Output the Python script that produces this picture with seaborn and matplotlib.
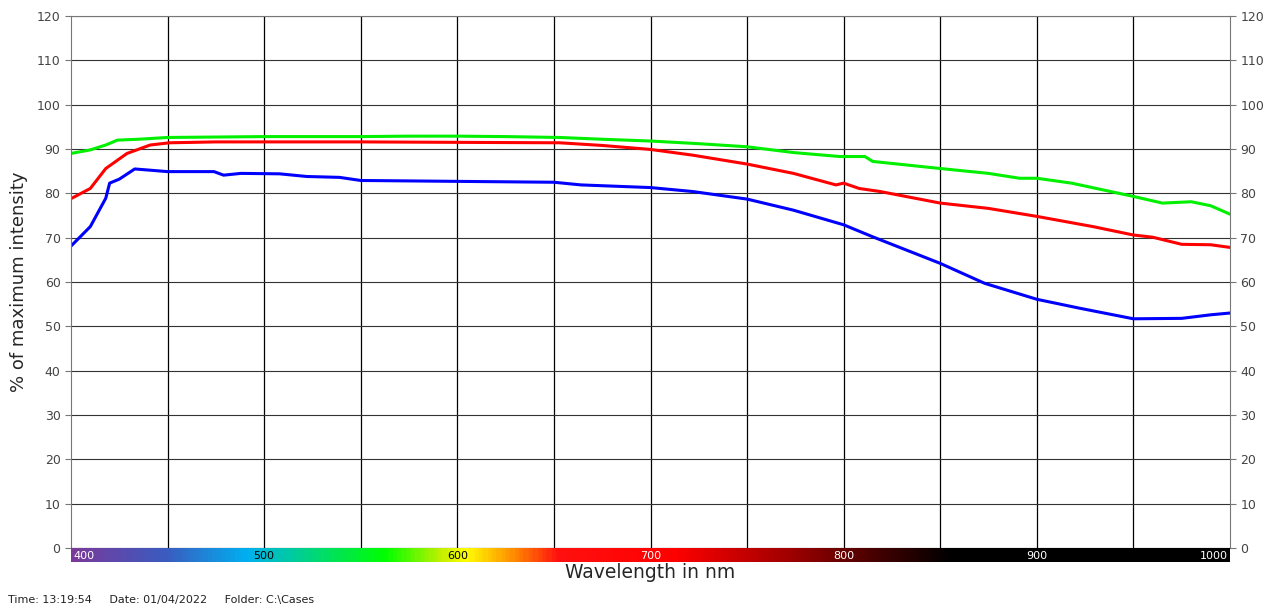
import numpy as np
import pandas as pd
import matplotlib
matplotlib.use('Agg')
import matplotlib.pyplot as plt
import seaborn as sns
from matplotlib.colors import LinearSegmentedColormap

# values
green_wl = [400, 410, 418, 424, 435, 450, 475, 500, 525, 550, 575, 600, 625, 653, 675, 700,
            725, 750, 774, 798, 811, 815, 850, 875, 891, 900, 918, 950, 965, 980, 990, 1000]
green_val = [89.0, 89.8, 90.9, 92.0, 92.2, 92.6, 92.7, 92.8, 92.8, 92.8, 92.9, 92.9, 92.8, 92.6, 92.2, 91.8,
             91.2, 90.5, 89.2, 88.3, 88.3, 87.2, 85.6, 84.5, 83.4, 83.4, 82.3, 79.3, 77.8, 78.1, 77.2, 75.3]

red_wl = [400, 410, 418, 429, 441, 451, 475, 500, 550, 600, 653, 675, 700, 722, 750, 774, 796, 800,
          808, 819, 850, 875, 900, 929, 950, 960, 975, 990, 1000]
red_val = [78.8, 81.1, 85.6, 89.0, 90.9, 91.4, 91.6, 91.6, 91.6, 91.5, 91.4, 90.8, 89.9, 88.6, 86.6, 84.5, 81.9, 82.3,
           81.1, 80.4, 77.8, 76.6, 74.8, 72.5, 70.6, 70.1, 68.5, 68.4, 67.8]

blue_wl = [400, 410, 418, 420, 425, 433, 450, 474, 479, 488, 508, 522, 539, 550, 600, 650, 664,
           700, 722, 750, 774, 800, 815, 850, 873, 900, 922, 950, 975, 990, 1000]
blue_val = [68.1, 72.5, 78.9, 82.3, 83.2, 85.5, 84.9, 84.9, 84.1, 84.5, 84.4, 83.8, 83.6, 82.9, 82.7, 82.5, 81.9,
            81.3, 80.4, 78.7, 76.2, 72.9, 70.2, 64.2, 59.7, 56.1, 54.1, 51.7, 51.8, 52.6, 53.0]

spec_ticks = [400, 500, 600, 700, 800, 900, 1000]
spec_stops = [(0.0, '#7a3a9c'), (0.08, '#3a5cc0'), (0.15, '#00b0f0'), (0.22, '#00e060'),
              (0.27, '#00ff00'), (0.32, '#c8f000'), (0.34, '#ffff00'), (0.38, '#ff9000'),
              (0.42, '#ff1010'), (0.52, '#ff0000'), (0.62, '#a00000'), (0.70, '#400000'),
              (0.76, '#000000'), (1.0, '#000000')]

sns.set_style('white')
plt.rcParams['font.family'] = ['DejaVu Sans']

fig = plt.figure(figsize=(12.72, 6.07), dpi=100)
ax = fig.add_axes([71/1272, 1-548/607, 1159/1272, 532/607])

for wl, val, col in [(green_wl, green_val, '#00f000'), (red_wl, red_val, '#ff0000'), (blue_wl, blue_val, '#0000ff')]:
    df = pd.DataFrame({'wl': wl, 'val': val})
    sns.lineplot(data=df, x='wl', y='val', color=col, linewidth=2.2, ax=ax)

ax.set_xlim(400, 1000)
ax.set_ylim(0, 120)
ax.set_yticks(range(0, 121, 10))
ax.set_xticks(range(450, 1000, 50))
ax.grid(True, axis='x', color='black', linewidth=0.9)
ax.grid(True, axis='y', color='#333333', linewidth=0.8)
ax.tick_params(axis='x', bottom=False, labelbottom=False)
ax.tick_params(axis='y', left=True, right=True, labelleft=True, labelright=True,
               length=4, color='#777777', labelcolor='#444444', labelsize=9)
for s in ax.spines.values():
    s.set_color('#777777')
ax.set_xlabel('')
ax.set_ylabel('% of maximum intensity', fontsize=13, labelpad=6)

# spectrum bar under the x axis
cax = fig.add_axes([71/1272, 1-562/607, 1159/1272, 14/607])
cmap = LinearSegmentedColormap.from_list('spec', spec_stops)
cax.imshow(np.linspace(0, 1, 600).reshape(1, -1), cmap=cmap, aspect='auto', extent=[400, 1000, 0, 1])
cax.set_xlim(400, 1000)
cax.set_axis_off()
for t in spec_ticks:
    tc = 'black' if t in (500, 600) else 'white'
    ha = 'left' if t == 400 else ('right' if t == 1000 else 'center')
    xt = t + 1.5 if t == 400 else (t - 1 if t == 1000 else t)
    cax.text(xt, 0.45, str(t), color=tc, ha=ha, va='center', fontsize=8)

fig.text(650/1272, 1-572/607, 'Wavelength in nm', ha='center', va='center', fontsize=13.5)
fig.text(8/1272, 1-600/607, 'Time: 13:19:54     Date: 01/04/2022     Folder: C:\\Cases',
         ha='left', va='center', fontsize=8, color='#222222')

fig.savefig('out.png', dpi=100)
